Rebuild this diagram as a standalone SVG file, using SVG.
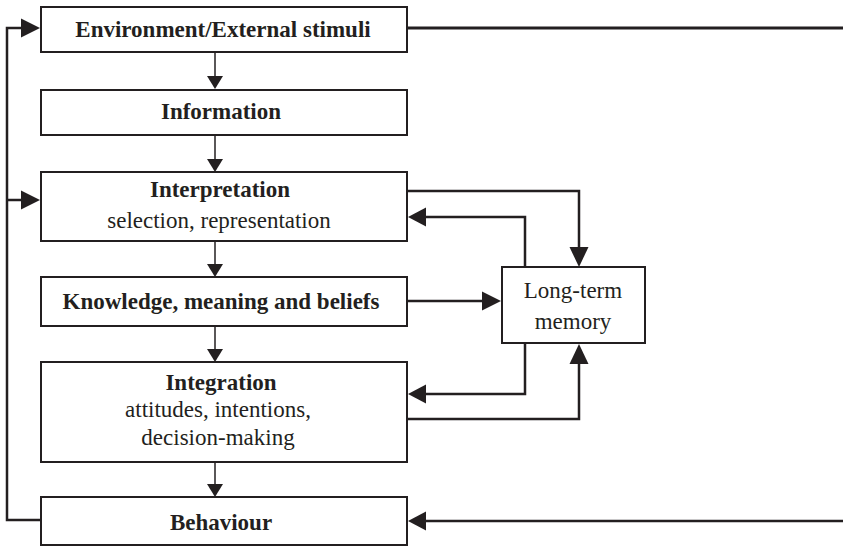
<svg xmlns="http://www.w3.org/2000/svg" width="843" height="546" viewBox="0 0 843 546">
<style>
.box{fill:#fff;stroke:#231f20;stroke-width:2}
.t{font-family:'Liberation Serif','Times New Roman',Times,'DejaVu Serif',serif;font-size:23px;fill:#231f20;text-anchor:middle}
.b{font-weight:bold}
.thin{fill:none;stroke:#231f20;stroke-width:1.5}
.thick{fill:none;stroke:#231f20;stroke-width:2.5}
.ah{fill:#231f20}
</style>
<rect width="843" height="546" fill="#fff"/>
<g id="connectors">
  <line class="thin" x1="215" y1="52" x2="215" y2="78"/>
  <polygon class="ah" points="207,76 223,76 215,89"/>
  <line class="thin" x1="215" y1="135" x2="215" y2="160"/>
  <polygon class="ah" points="207,159 223,159 215,172"/>
  <line class="thin" x1="215" y1="241" x2="215" y2="266"/>
  <polygon class="ah" points="207,264 223,264 215,277"/>
  <line class="thin" x1="215" y1="326" x2="215" y2="350"/>
  <polygon class="ah" points="207,349 223,349 215,362"/>
  <line class="thin" x1="215" y1="462" x2="215" y2="486"/>
  <polygon class="ah" points="207,484 223,484 215,497"/>
  <polyline class="thick" points="41,520 7,520 7,28 24,28"/>
  <polygon class="ah" points="21,18.5 21,37.5 40,28"/>
  <line class="thick" x1="7" y1="200" x2="24" y2="200"/>
  <polygon class="ah" points="21,190.5 21,209.5 40,200"/>
  <line x1="407" y1="28" x2="843" y2="28" stroke="#231f20" stroke-width="3.2"/>
  <line class="thick" x1="843" y1="521" x2="424" y2="521"/>
  <polygon class="ah" points="426,511.5 426,530.5 408,521"/>
  <polyline class="thick" points="407,191 579,191 579,249"/>
  <polygon class="ah" points="569.5,247 588.5,247 579,267"/>
  <polyline class="thick" points="525,267 525,217 424,217"/>
  <polygon class="ah" points="426,207.5 426,226.5 408,217"/>
  <line class="thick" x1="407" y1="301" x2="484" y2="301"/>
  <polygon class="ah" points="482,291.5 482,310.5 501,301"/>
  <polyline class="thick" points="525,343 525,394 424,394"/>
  <polygon class="ah" points="426,384.5 426,403.5 408,394"/>
  <polyline class="thick" points="407,419 579,419 579,362"/>
  <polygon class="ah" points="569.5,364 588.5,364 579,344"/>
</g>
<g id="env">
  <rect class="box" x="41" y="7" width="366" height="45"/>
  <text class="t b" x="223" y="37">Environment/External stimuli</text>
</g>
<g id="information">
  <rect class="box" x="41" y="90" width="366" height="45"/>
  <text class="t b" x="221" y="119">Information</text>
</g>
<g id="interpretation">
  <rect class="box" x="41" y="172" width="366" height="69"/>
  <text class="t b" x="220" y="197">Interpretation</text>
  <text class="t" x="219" y="228">selection, representation</text>
</g>
<g id="knowledge">
  <rect class="box" x="41" y="277" width="366" height="49"/>
  <text class="t b" x="221" y="309">Knowledge, meaning and beliefs</text>
</g>
<g id="integration">
  <rect class="box" x="41" y="362" width="366" height="100"/>
  <text class="t b" x="221" y="390">Integration</text>
  <text class="t" x="218" y="417">attitudes, intentions,</text>
  <text class="t" x="218" y="445">decision-making</text>
</g>
<g id="behaviour">
  <rect class="box" x="41" y="497" width="366" height="48"/>
  <text class="t b" x="221" y="530">Behaviour</text>
</g>
<g id="ltm">
  <rect class="box" x="502" y="267" width="143" height="76"/>
  <text class="t" x="573" y="298">Long-term</text>
  <text class="t" x="573" y="329">memory</text>
</g>
</svg>
